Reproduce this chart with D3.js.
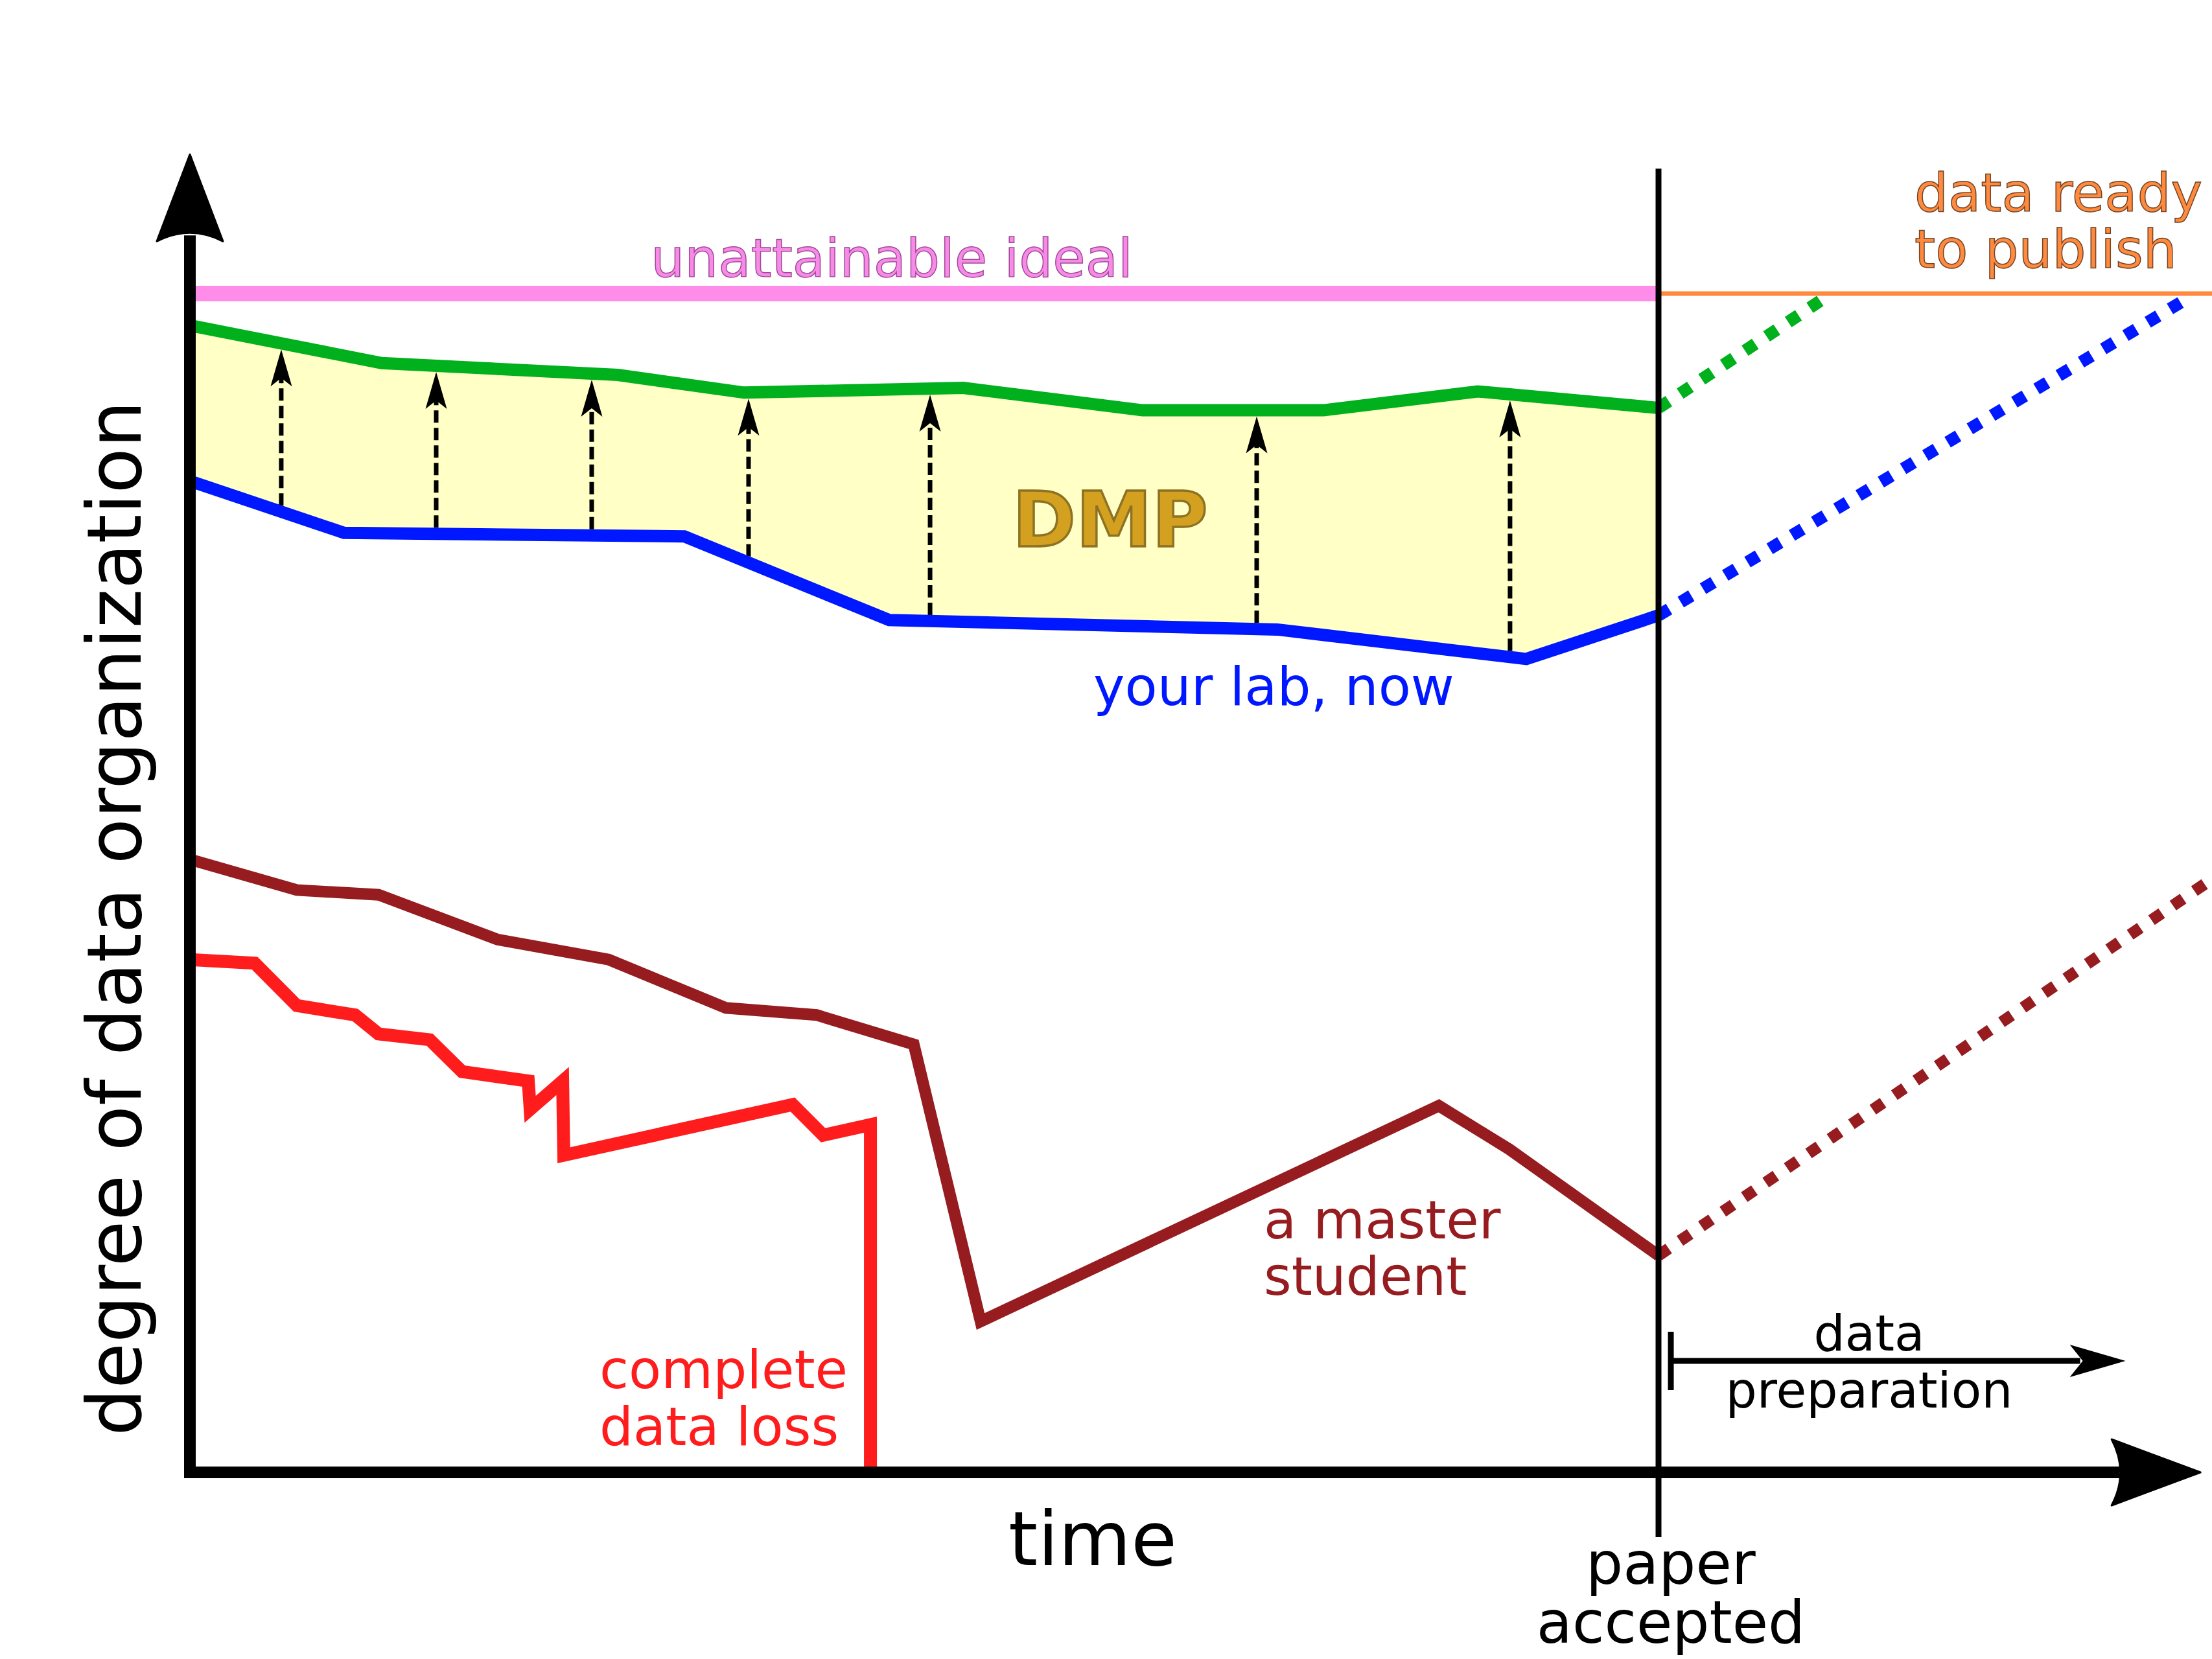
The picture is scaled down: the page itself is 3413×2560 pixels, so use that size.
<!DOCTYPE html>
<html><head><meta charset="utf-8">
<script src="https://cdn.jsdelivr.net/npm/d3@7"></script>
<style>html,body{margin:0;padding:0;background:#fff;overflow:hidden;} svg{display:block;}</style>
</head><body>
<script>
// Units: time 0 = start (y axis), 100 = paper accepted; organization 0 = x axis, 100 = unattainable ideal
const idealLevel = 100;
const paperAccepted = 100;
const dmpTarget = [[0,97.3],[13.06,94.1],[29.13,93.1],[37.73,91.6],[52.65,92.0],[64.87,90.1],[77.18,90.1],[87.69,91.7],[100,90.3]];
const yourLabNow = [[0,84.1],[10.5,79.7],[33.67,79.4],[47.62,72.3],[74.05,71.5],[91.0,69.0],[100,72.7]];
const masterStudent = [[0,52.0],[7.28,49.4],[12.84,49.0],[20.96,45.2],[28.51,43.5],[36.5,39.4],[42.67,38.8],[49.29,36.3],[53.84,12.8],[85.04,31.1],[89.85,27.4],[100,18.4]];
const dataLoss = [[0,43.5],[4.41,43.2],[7.28,39.6],[11.25,38.8],[12.84,37.2],[16.33,36.7],[18.53,34.0],[23.04,33.2],[23.17,30.8],[25.38,33.2],[25.46,26.9],[41.04,31.2],[43.12,28.6],[46.34,29.5],[46.34,0]];
const dmpExtension = [[100,90.3],[111.1,99.45]];
const labExtension = [[100,72.7],[135.7,99.35]];
const masterExtension = [[100,18.4],[138,50.6]];
const dmpArrowTimes = [6.22,16.77,27.36,38.04,50.40,72.64,89.89];
const prepSpan = [100.84, 131.8];
const prepLevel = 9.46;
const axisExtent = {time: 136.9, org: 111.8};
const publishLineEnd = 137.7;
const paperLineSpan = [-5.5, 110.6];

const W = 3413, H = 2560;
const svg = d3.select("body").append("svg").attr("width", W).attr("height", H)
  .style("font-family", "'DejaVu Sans', sans-serif");

const x = d3.scaleLinear().domain([0, 100]).range([293, 2559]);
const y = d3.scaleLinear().domain([0, 100]).range([2272, 453]);
const line = d3.line().x(d => x(d[0])).y(d => y(d[1])).curve(d3.curveLinear);

const C = {
  pink: "#ff8ce9", green: "#00b01c", blue: "#0018ff", fill: "#ffffc6",
  darkred: "#961c1f", red: "#ff1c1c", orange: "#ff8a3d", dmp: "#d4a020"
};

function interp(series, t) {
  for (let i = 0; i < series.length - 1; i++) {
    const a = series[i], b = series[i + 1];
    if (t >= a[0] && t <= b[0]) {
      const f = (t - a[0]) / (b[0] - a[0] || 1);
      return a[1] + f * (b[1] - a[1]);
    }
  }
  return series[series.length - 1][1];
}

// DMP band
svg.append("path")
  .attr("d", line(dmpTarget.concat(yourLabNow.slice().reverse())) + "Z")
  .attr("fill", C.fill).attr("stroke", "none");

// dashed improvement arrows
const arrowG = svg.append("g");
dmpArrowTimes.forEach(t => {
  const px = x(t);
  const top = y(interp(dmpTarget, t)) + 9.5;
  const bot = y(interp(yourLabNow, t)) - 9.5;
  arrowG.append("line").attr("x1", px).attr("x2", px).attr("y1", bot).attr("y2", top + 44)
    .attr("stroke", "#000").attr("stroke-width", 7).attr("stroke-dasharray", "19,8");
  arrowG.append("path")
    .attr("d", `M${px},${top} L${px + 16.5},${top + 57} L${px},${top + 44} L${px - 16.5},${top + 57} Z`)
    .attr("fill", "#000");
});

// series lines
function drawLine(data, color, width, dash) {
  const p = svg.append("path").attr("d", line(data)).attr("fill", "none")
    .attr("stroke", color).attr("stroke-width", width)
    .attr("stroke-linejoin", "miter").attr("stroke-miterlimit", 4);
  if (dash) p.attr("stroke-dasharray", dash);
  return p;
}
drawLine(dmpTarget, C.green, 19);
drawLine(yourLabNow, C.blue, 19);
drawLine(masterStudent, C.darkred, 18);
drawLine(dataLoss, C.red, 20);
drawLine(dmpExtension, C.green, 19, "19,21");
drawLine(labExtension, C.blue, 19, "19,21");
drawLine(masterExtension, C.darkred, 18, "19,21");

// ideal line and publish line
svg.append("line").attr("x1", x(0)).attr("x2", x(paperAccepted))
  .attr("y1", y(idealLevel)).attr("y2", y(idealLevel))
  .attr("stroke", C.pink).attr("stroke-width", 24);
svg.append("line").attr("x1", x(paperAccepted)).attr("x2", x(publishLineEnd))
  .attr("y1", y(idealLevel)).attr("y2", y(idealLevel))
  .attr("stroke", C.orange).attr("stroke-width", 7);

// paper accepted vertical line
svg.append("line").attr("x1", x(paperAccepted)).attr("x2", x(paperAccepted))
  .attr("y1", y(paperLineSpan[1])).attr("y2", y(paperLineSpan[0]))
  .attr("stroke", "#000").attr("stroke-width", 9);

// axes
const ox = x(0), oy = y(0);
const xTip = x(axisExtent.time), yTip = y(axisExtent.org);
svg.append("line").attr("x1", ox - 9).attr("x2", xTip - 125).attr("y1", oy).attr("y2", oy)
  .attr("stroke", "#000").attr("stroke-width", 18);
svg.append("line").attr("x1", ox).attr("x2", ox).attr("y1", oy + 9).attr("y2", yTip + 125)
  .attr("stroke", "#000").attr("stroke-width", 18);
svg.append("path")
  .attr("d", `M${xTip},${oy} L${xTip - 137},${oy - 51} Q${xTip - 110},${oy} ${xTip - 137},${oy + 51} Z`)
  .attr("fill", "#000").attr("stroke", "#000").attr("stroke-width", 3).attr("stroke-linejoin", "round");
svg.append("path")
  .attr("d", `M${ox},${yTip} L${ox - 51},${yTip + 134} Q${ox},${yTip + 108} ${ox + 51},${yTip + 134} Z`)
  .attr("fill", "#000").attr("stroke", "#000").attr("stroke-width", 3).attr("stroke-linejoin", "round");

// data preparation bracket
const py = y(prepLevel);
const px0 = x(prepSpan[0]), px1 = x(prepSpan[1]);
svg.append("line").attr("x1", px0).attr("x2", px0).attr("y1", py - 45).attr("y2", py + 45)
  .attr("stroke", "#000").attr("stroke-width", 9);
svg.append("line").attr("x1", px0).attr("x2", px1 - 70).attr("y1", py).attr("y2", py)
  .attr("stroke", "#000").attr("stroke-width", 9);
svg.append("path")
  .attr("d", `M${px1},${py} L${px1 - 86},${py - 25} L${px1 - 66},${py} L${px1 - 86},${py + 25} Z`)
  .attr("fill", "#000");

// texts
function txt(xp, yp, lines, size, fill, opts = {}) {
  const t = svg.append("text").attr("x", xp).attr("y", yp)
    .attr("font-size", size).attr("fill", fill)
    .attr("text-anchor", opts.anchor || "start");
  if (opts.weight) t.attr("font-weight", opts.weight);
  if (opts.stroke) t.attr("stroke", opts.stroke).attr("stroke-width", opts.sw || 1.5);
  lines.forEach((s, i) => {
    t.append("tspan").attr("x", xp).attr("y", yp + i * (opts.lh || size * 1.07)).text(s);
  });
  return t;
}
txt(1376, 427, ["unattainable ideal"], 82, "#f78ae7", {anchor: "middle", stroke: "#a04a98", sw: 1.5});
txt(2954, 326, ["data ready", "to publish"], 82, C.orange, {stroke: "#6e4428", sw: 1.5, lh: 87});
txt(1562, 843, ["DMP"], 118, C.dmp, {weight: "bold", stroke: "#8c7222", sw: 3.5});
txt(1687, 1088, ["your lab, now"], 82, C.blue);
txt(1950, 1911, ["a master", "student"], 82, C.darkred, {lh: 87});
txt(925, 2142, ["complete", "data loss"], 82, C.red, {lh: 88});
txt(1686, 2415, ["time"], 115, "#000", {anchor: "middle"});
txt(2578, 2444, ["paper", "accepted"], 90, "#000", {anchor: "middle", lh: 91});
txt(2884, 2084, ["data", "preparation"], 76, "#000", {anchor: "middle", lh: 88});
svg.append("text").attr("transform", "translate(217,1417) rotate(-90)")
  .attr("text-anchor", "middle").attr("font-size", 115).attr("fill", "#000")
  .text("degree of data organization");
</script>
</body></html>
